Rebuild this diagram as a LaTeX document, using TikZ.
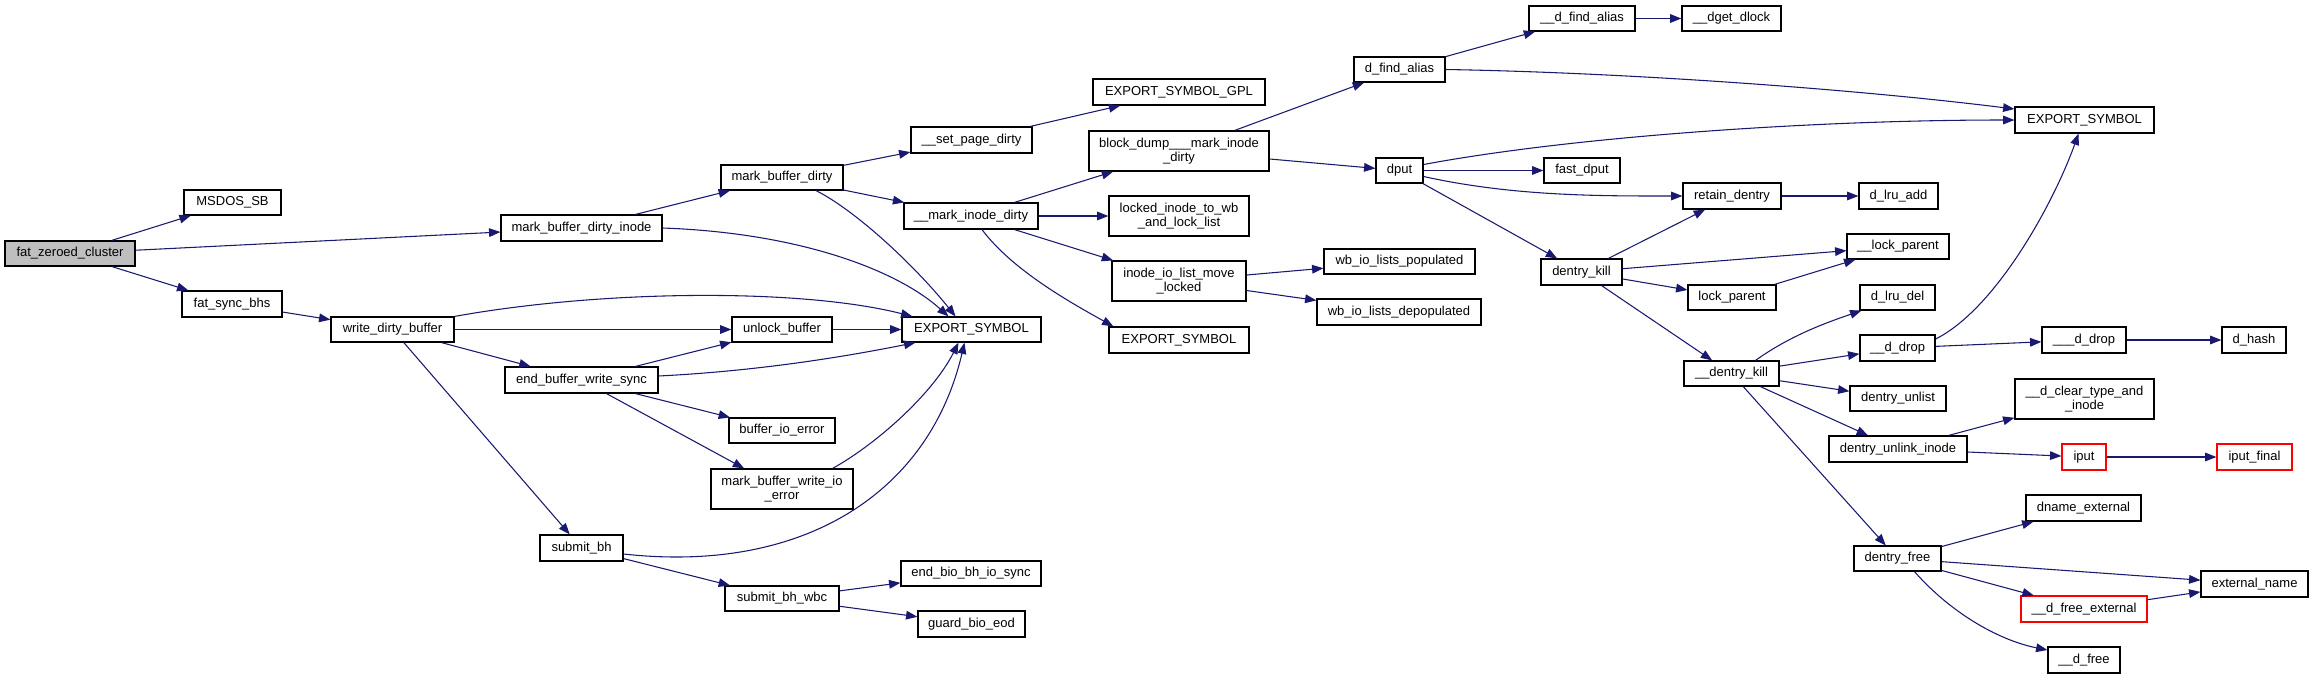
\documentclass[tikz,border=0pt]{standalone}
\usepackage{fontspec}
\setmainfont{Liberation Sans}
\usetikzlibrary{arrows.meta,calc}
\definecolor{edgeblue}{HTML}{191970}
\definecolor{rootgray}{HTML}{BFBFBF}
\tikzset{
  box/.style={draw=black,line width=0.9pt,fill=white,rectangle,inner sep=0pt,align=center,
    font=\fontsize{9.75}{10.5}\selectfont},
  redbox/.style={draw=red},
  rootbox/.style={fill=rootgray},
  edge/.style={draw=edgeblue,line width=0.8pt,-{Triangle[length=8.5pt,width=6.5pt]}}
}
\newcommand\bx[7][]{\node[box,#1,minimum width={(#5-#3)*0.75pt},minimum height={(#6-#4)*0.75pt}] (#2) at ({(#3+#5)/2},{(#4+#6)/2}) {#7};}
\begin{document}
\begin{tikzpicture}[x=0.75pt,y=-0.75pt]
\useasboundingbox (0,0) rectangle (2313,679);
% nodes
\bx[rootbox]{fzc}{5}{241}{135}{266}{fat\_zeroed\_cluster}
\bx{msdos}{184}{190}{281}{215}{MSDOS\_SB}
\bx{mbdi}{501}{215}{662}{241}{mark\_buffer\_dirty\_inode}
\bx{fsb}{182}{291}{282}{317}{fat\_sync\_bhs}
\bx{wdb}{331}{317}{454}{342}{write\_dirty\_buffer}
\bx{ebws}{505}{367}{658}{393}{end\_buffer\_write\_sync}
\bx{mbd}{721}{165}{843}{190}{mark\_buffer\_dirty}
\bx{spd}{911}{127}{1032}{153}{\_\_set\_page\_dirty}
\bx{mid}{904}{203}{1038}{229}{\_\_mark\_inode\_dirty}
\bx{es1}{902}{317}{1041}{342}{EXPORT\_SYMBOL}
\bx{ub}{732}{317}{832}{342}{unlock\_buffer}
\bx{bie}{729}{418}{835}{443}{buffer\_io\_error}
\bx{mbwie}{711}{469}{853}{509}{mark\_buffer\_write\_io\\\_error}
\bx{sb}{540}{535}{623}{561}{submit\_bh}
\bx{sbw}{725}{586}{839}{611}{submit\_bh\_wbc}
\bx{ebbis}{901}{561}{1041}{586}{end\_bio\_bh\_io\_sync}
\bx{gbe}{918}{611}{1025}{637}{guard\_bio\_eod}
\bx{esgpl}{1093}{79}{1265}{105}{EXPORT\_SYMBOL\_GPL}
\bx{bd}{1089}{131}{1269}{171}{block\_dump\_\_\_mark\_inode\\\_dirty}
\bx{lock}{1109}{196}{1249}{236}{locked\_inode\_to\_wb\\\_and\_lock\_list}
\bx{iilm}{1112}{261}{1246}{301}{inode\_io\_list\_move\\\_locked}
\bx{es3}{1109}{327}{1249}{353}{EXPORT\_SYMBOL}
\bx{dfa}{1354}{57}{1445}{82}{d\_find\_alias}
\bx{dput}{1376}{158}{1423}{183}{dput}
\bx{wbp}{1324}{249}{1475}{274}{wb\_io\_lists\_populated}
\bx{wbd}{1317}{299}{1481}{325}{wb\_io\_lists\_depopulated}
\bx{ddfa}{1529}{6}{1635}{31}{\_\_d\_find\_alias}
\bx{dgd}{1682}{6}{1781}{31}{\_\_dget\_dlock}
\bx{es2}{2015}{107}{2154}{133}{EXPORT\_SYMBOL}
\bx{fdput}{1544}{158}{1620}{183}{fast\_dput}
\bx{rd}{1683}{183}{1781}{209}{retain\_dentry}
\bx{dla}{1859}{183}{1938}{209}{d\_lru\_add}
\bx{lpu}{1847}{234}{1949}{259}{\_\_lock\_parent}
\bx{dk}{1541}{259}{1622}{285}{dentry\_kill}
\bx{lp}{1688}{285}{1776}{310}{lock\_parent}
\bx{dld}{1860}{285}{1935}{310}{d\_lru\_del}
\bx{ddrop}{1860}{335}{1935}{361}{\_\_d\_drop}
\bx{dddrop}{2042}{327}{2126}{353}{\_\_\_d\_drop}
\bx{dhash}{2222}{327}{2286}{353}{d\_hash}
\bx{dkill}{1684}{361}{1779}{386}{\_\_dentry\_kill}
\bx{dul}{1850}{386}{1946}{411}{dentry\_unlist}
\bx{dcti}{2015}{379}{2154}{419}{\_\_d\_clear\_type\_and\\\_inode}
\bx{dui}{1829}{436}{1967}{462}{dentry\_unlink\_inode}
\bx[redbox]{iput}{2062}{444}{2106}{470}{iput}
\bx[redbox]{iputf}{2217}{444}{2292}{470}{iput\_final}
\bx{dne}{2026}{495}{2141}{521}{dname\_external}
\bx{df}{1854}{546}{1941}{571}{dentry\_free}
\bx{en}{2201}{571}{2308}{597}{external\_name}
\bx[redbox]{dfe}{2021}{596}{2147}{622}{\_\_d\_free\_external}
\bx{dfree}{2048}{647}{2120}{673}{\_\_d\_free}
% edges
\draw[edge] (fzc) -- (msdos);
\draw[edge] (fzc) -- (mbdi);
\draw[edge] (fzc) -- (fsb);
\draw[edge] (fsb) -- (wdb);
\draw[edge] (mbdi) -- (mbd);
\draw[edge] (mbdi.east) .. controls +(140,5) and +(-50,-45) .. ($(es1.north)+(-23,0)$);
\draw[edge] (mbd) -- (spd);
\draw[edge] (mbd) -- (mid);
\draw[edge] ($(mbd.south)+(34,0)$) .. controls +(40,20) and +(-40,-50) .. ($(es1.north)+(-16,0)$);
\draw[edge] (wdb.north east) .. controls +(150,-27) and +(-110,-28) .. ($(es1.north west)+(11,0)$);
\draw[edge] (wdb) -- (ub);
\draw[edge] (wdb) -- (ebws);
\draw[edge] (wdb) -- (sb);
\draw[edge] (ebws) -- (ub);
\draw[edge] ($(ebws.east)+(0,-4)$) .. controls +(100,-5) and +(-70,14) .. ($(es1.south west)+(14,0)$);
\draw[edge] (ebws) -- (bie);
\draw[edge] (ebws) -- (mbwie);
\draw[edge] (ub) -- (es1);
\draw[edge] ($(mbwie.north east)+(-21,0)$) .. controls +(45,-25) and +(-25,50) .. ($(es1.south)+(-13,0)$);
\draw[edge] ($(sb.east)+(0,6)$) .. controls +(180,20) and +(-35,150) .. ($(es1.south)+(-7,0)$);
\draw[edge] (sb) -- (sbw);
\draw[edge] (sbw) -- (ebbis);
\draw[edge] (sbw) -- (gbe);
\draw[edge] (spd) -- (esgpl);
\draw[edge] (mid) -- (bd);
\draw[edge] (mid) -- (lock);
\draw[edge] (mid) -- (iilm);
\draw[edge] ($(mid.south)+(11,0)$) .. controls +(30,40) and +(-45,-25) .. ($(es3.north west)+(5,0)$);
\draw[edge] (bd) -- (dfa);
\draw[edge] (bd) -- (dput);
\draw[edge] (iilm) -- (wbp);
\draw[edge] (iilm) -- (wbd);
\draw[edge] (dfa) -- (ddfa);
\draw[edge] (dfa.east) .. controls +(180,3) and +(-160,-20) .. ($(es2.west)+(0,-11)$);
\draw[edge] (ddfa) -- (dgd);
\draw[edge] ($(dput.east)+(0,-6)$) .. controls +(150,-28) and +(-200,0) .. (es2.west);
\draw[edge] (dput) -- (fdput);
\draw[edge] ($(dput.east)+(0,6)$) .. controls +(90,20) and +(-80,0) .. (rd.west);
\draw[edge] (dput) -- (dk);
\draw[edge] (rd) -- (dla);
\draw[edge] (dk) -- (rd);
\draw[edge] (dk) -- (lpu);
\draw[edge] (dk) -- (lp);
\draw[edge] (lp) -- (lpu);
\draw[edge] (dk) -- (dkill);
\draw[edge] ($(dkill.north)+(24,0)$) .. controls +(35,-25) and +(-35,12) .. ($(dld.south west)+(2,0)$);
\draw[edge] (dkill) -- (ddrop);
\draw[edge] ($(ddrop.east)+(0,-9)$) .. controls +(60,-30) and +(-25,70) .. ($(es2.south)+(-6,0)$);
\draw[edge] (ddrop) -- (dddrop);
\draw[edge] (dddrop) -- (dhash);
\draw[edge] (dkill) -- (dul);
\draw[edge] (dkill) -- (dui);
\draw[edge] (dkill) -- (df);
\draw[edge] (dui) -- (dcti);
\draw[edge] (dui) -- (iput);
\draw[edge] (iput) -- (iputf);
\draw[edge] (df) -- (dne);
\draw[edge] (df) -- (en);
\draw[edge] (df) -- (dfe);
\draw[edge] ($(df.south)+(17,0)$) .. controls +(35,40) and +(-50,-10) .. ($(dfree.west)+(0,-10)$);
\draw[edge] (dfe) -- (en);
\end{tikzpicture}
\end{document}
